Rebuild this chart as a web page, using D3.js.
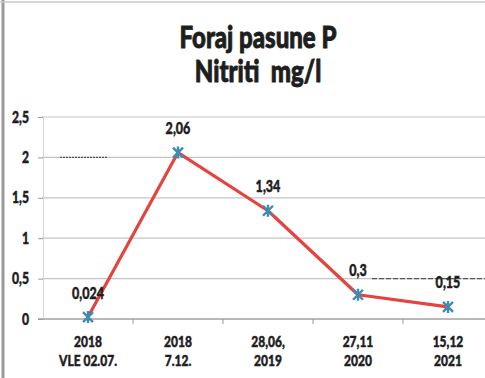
<!DOCTYPE html>
<html>
<head>
<meta charset="utf-8">
<script src="https://cdn.jsdelivr.net/npm/d3@7"></script>
<style>
  html, body { margin: 0; padding: 0; background: #fff; }
  svg { display: block; }
  text { font-family: Lato, "Open Sans", sans-serif; font-weight: 900; fill: #1e1e1e; stroke: #1e1e1e; stroke-width: 0.45px; }
</style>
</head>
<body>
<svg id="chart" width="485" height="378"></svg>
<script>
// Sampling dates (two-line labels) and nitrite concentrations in mg/l
const categoryLine1 = ["2018", "2018", "28,06,", "27,11", "15,12"];
const categoryLine2 = ["VLE 02.07.", "7.12.", "2019", "2020", "2021"];
const nitrites = [0.024, 2.06, 1.34, 0.3, 0.15];
const valueLabels = ["0,024", "2,06", "1,34", "0,3", "0,15"];
const yTicks = [0, 0.5, 1, 1.5, 2, 2.5];
const yTickLabels = ["0", "0,5", "1", "1,5", "2", "2,5"];
const titleLines = ["Foraj pasune P", "Nitriti  mg/l"];

const svg = d3.select("#chart");
const W = 485, H = 378;

const x = d3.scaleBand().domain(d3.range(nitrites.length)).range([43, 493]).padding(0);
const y = d3.scaleLinear().domain([0, 2.5]).range([319, 117]);
const cx = i => x(i) + x.bandwidth() / 2;

// condensed text helper: positions text at (px, py) and squeezes it horizontally
function narrowText(sel, px, py, size, anchor, squeeze) {
  const k = squeeze || 0.76;
  return sel.attr("transform", (d, i) =>
      `translate(${px(d, i)},${py(d, i)}) scale(${k},1)`)
    .attr("x", 0).attr("y", 0)
    .attr("font-size", size).attr("text-anchor", anchor || "middle");
}

// outer frame of the chart object
svg.append("line").attr("x1", 3).attr("x2", 3).attr("y1", 0).attr("y2", H)
  .attr("stroke", "#9a9a9a").attr("stroke-width", 3);
svg.append("line").attr("x1", 0).attr("x2", W).attr("y1", 2).attr("y2", 2)
  .attr("stroke", "#c8c8c8").attr("stroke-width", 1.5);

// title
narrowText(svg.append("g").selectAll("text").data(titleLines).join("text"),
    () => 258, (d, i) => 48 + i * 34, 30, "middle", 0.8)
  .style("white-space", "pre").style("stroke-width", "0.9px")
  .text(d => d);

// horizontal gridlines
svg.append("g").selectAll("line").data(yTicks.filter(v => v > 0)).join("line")
  .attr("x1", 42).attr("x2", W).attr("y1", d => y(d)).attr("y2", d => y(d))
  .attr("stroke", "#c4c4c4").attr("stroke-width", 1.2);

// y axis
const yAxis = d3.axisLeft(y).tickValues(yTicks).tickSize(5).tickFormat(() => "");
const gy = svg.append("g").attr("transform", "translate(43,0)").call(yAxis);
gy.select(".domain").attr("stroke", "#d4d4d4");
gy.selectAll(".tick line").attr("stroke", "#9a9a9a");
narrowText(svg.append("g").selectAll("text").data(yTicks).join("text"),
    () => 29, d => y(d) + 5.5, 16, "end")
  .text((d, i) => yTickLabels[i]);

// x axis baseline with ticks between categories
svg.append("line").attr("x1", 38).attr("x2", W).attr("y1", y(0)).attr("y2", y(0))
  .attr("stroke", "#a0a0a0").attr("stroke-width", 1.3);
svg.append("g").selectAll("line").data(d3.range(1, nitrites.length)).join("line")
  .attr("x1", i => x(i)).attr("x2", i => x(i))
  .attr("y1", y(0)).attr("y2", y(0) + 5)
  .attr("stroke", "#9a9a9a");

// category labels
const idx = d3.range(nitrites.length);
narrowText(svg.append("g").selectAll("text").data(idx).join("text"),
    i => cx(i), () => 347, 15, "middle", 0.8).text(i => categoryLine1[i]);
narrowText(svg.append("g").selectAll("text").data(idx).join("text"),
    i => cx(i), () => 366, 15, "middle", 0.8)
  .style("white-space", "pre").text(i => categoryLine2[i]);

// faint limit dashes at 2 and 0.5 mg/l
svg.append("line").attr("x1", cx(0) - 28).attr("x2", cx(0) + 20)
  .attr("y1", y(2)).attr("y2", y(2))
  .attr("stroke", "#555").attr("stroke-width", 1.2).attr("stroke-dasharray", "2,1");
svg.append("line").attr("x1", cx(3) + 14).attr("x2", W)
  .attr("y1", y(0.5)).attr("y2", y(0.5))
  .attr("stroke", "#555").attr("stroke-width", 1.2).attr("stroke-dasharray", "5,2");

// data line
const line = d3.line().x((d, i) => cx(i)).y(d => y(d));
svg.append("path").datum(nitrites).attr("d", line)
  .attr("fill", "none").attr("stroke", "#e5433f").attr("stroke-width", 3.2)
  .attr("stroke-linejoin", "round");

// star markers
const mk = svg.append("g").selectAll("g").data(nitrites).join("g")
  .attr("transform", (d, i) => `translate(${cx(i)},${y(d)})`);
mk.append("path").attr("d", "M-5,-5L5,5M-5,5L5,-5M0,-6L0,6")
  .attr("stroke", "#3d8db2").attr("stroke-width", 2.4).attr("fill", "none");

// value labels
narrowText(svg.append("g").selectAll("text").data(nitrites).join("text"),
    (d, i) => cx(i), d => y(d) - 18.5, 16.5)
  .text((d, i) => valueLabels[i]);
</script>
</body>
</html>
